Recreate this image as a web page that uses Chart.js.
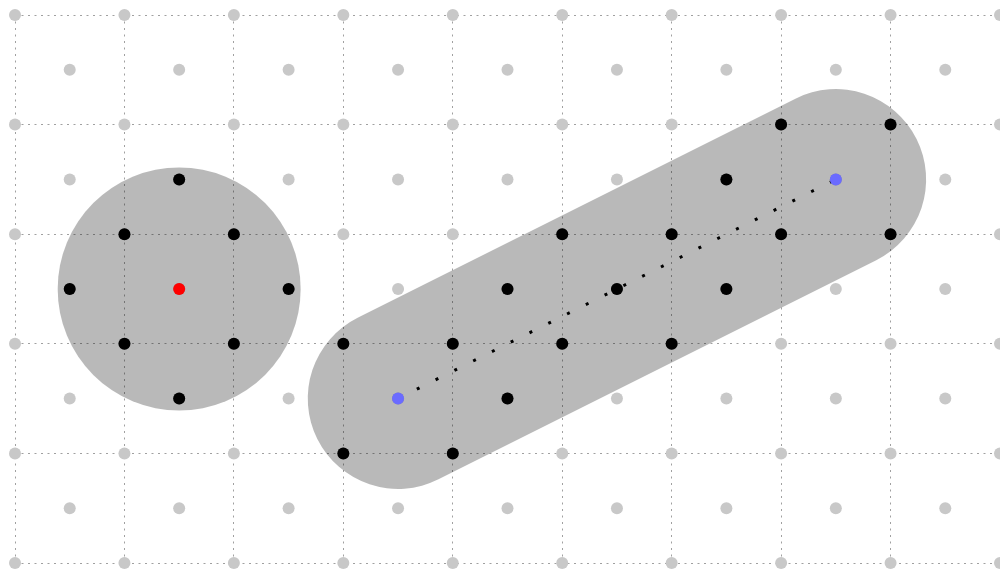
<!DOCTYPE html>
<html>
<head>
<meta charset="utf-8">
<script src="https://cdn.jsdelivr.net/npm/chart.js@4"></script>
<style>
  html, body { margin: 0; padding: 0; background: #fff; }
  #wrap { width: 1000px; height: 572px; }
</style>
</head>
<body>
<div id="wrap"><canvas id="grid" width="1000" height="572"></canvas></div>
<script>
// lattice of the background dots (half-grid units, y grows downward)
const evenCols = [0, 2, 4, 6, 8, 10, 12, 14, 16, 18];
const oddCols = [1, 3, 5, 7, 9, 11, 13, 15, 17];
const evenRows = [0, 2, 4, 6, 8, 10];
const oddRows = [1, 3, 5, 7, 9];

// circle on the left
const circleCenter = [3, 5];
const circleRadius = 2.22;
const circlePoints = [
  [3, 3], [2, 4], [4, 4], [1, 5], [5, 5], [2, 6], [4, 6], [3, 7],
];

// capsule on the right
const capsuleEnds = [[7, 7], [15, 3]];
const capsuleRadius = 1.65;
const capsulePoints = [
  [14, 2], [16, 2], [13, 3], [10, 4], [12, 4], [14, 4], [16, 4],
  [9, 5], [11, 5], [13, 5], [6, 6], [8, 6], [10, 6], [12, 6],
  [9, 7], [6, 8], [8, 8],
];

const toXY = (p) => ({ x: p[0], y: p[1] });

const grayDots = [];
evenRows.forEach((y) => evenCols.forEach((x) => grayDots.push({ x, y })));
oddRows.forEach((y) => oddCols.forEach((x) => grayDots.push({ x, y })));

// convert a length in data units to pixels through the x scale
function unitsToPx(chart, len) {
  const sx = chart.scales.x;
  return Math.abs(sx.getPixelForValue(len) - sx.getPixelForValue(0));
}

const shapeFill = "rgba(0, 0, 0, 0.275)";

new Chart(document.getElementById("grid"), {
  type: "scatter",
  data: {
    datasets: [
      {
        // end points of the capsule axis
        data: capsuleEnds.map(toXY),
        backgroundColor: "#6b6bff",
        pointRadius: 6,
        borderWidth: 0,
        clip: false,
      },
      {
        // circle center
        data: [toXY(circleCenter)],
        backgroundColor: "#ff0000",
        pointRadius: 6,
        borderWidth: 0,
        clip: false,
      },
      {
        // dotted axis of the capsule
        type: "line",
        data: capsuleEnds.map(toXY),
        borderColor: "#000",
        borderWidth: 3,
        borderDash: [3, 18],
        pointRadius: 0,
        fill: false,
      },
      {
        data: circlePoints.concat(capsulePoints).map(toXY),
        backgroundColor: "#000",
        pointRadius: 6,
        borderWidth: 0,
        clip: false,
      },
      {
        // capsule body: a thick line with round caps
        type: "line",
        data: capsuleEnds.map(toXY),
        borderColor: shapeFill,
        borderWidth: (ctx) => 2 * unitsToPx(ctx.chart, capsuleRadius),
        borderCapStyle: "round",
        pointRadius: 0,
        fill: false,
        clip: false,
      },
      {
        // circle body
        data: [toXY(circleCenter)],
        backgroundColor: shapeFill,
        pointRadius: (ctx) => unitsToPx(ctx.chart, circleRadius),
        borderWidth: 0,
        clip: false,
      },
      {
        data: grayDots,
        backgroundColor: "#c8c8c8",
        pointRadius: 6,
        borderWidth: 0,
        clip: false,
      },
    ],
  },
  options: {
    responsive: false,
    animation: false,
    events: [],
    layout: {
      autoPadding: false,
      padding: { left: 15, top: 15, right: 0, bottom: 9 },
    },
    plugins: {
      legend: { display: false },
      tooltip: { enabled: false },
    },
    scales: {
      x: {
        type: "linear",
        min: 0,
        max: 18,
        ticks: { display: false, stepSize: 2 },
        border: { display: false },
        grid: {
          color: "#a0a0a0",
          lineWidth: 1,
          drawTicks: false,
        },
      },
      y: {
        type: "linear",
        min: 0,
        max: 10,
        reverse: true,
        ticks: { display: false, stepSize: 2 },
        border: { display: false },
        grid: {
          color: "#a0a0a0",
          lineWidth: 1,
          drawTicks: false,
        },
      },
    },
  },
  plugins: [
    {
      // dotted grid lines
      id: "dottedGrid",
      beforeInit(chart) {
        chart.options.scales.x.border.dash = [2, 4.5];
        chart.options.scales.y.border.dash = [2, 4.5];
      },
    },
  ],
});
</script>
</body>
</html>
